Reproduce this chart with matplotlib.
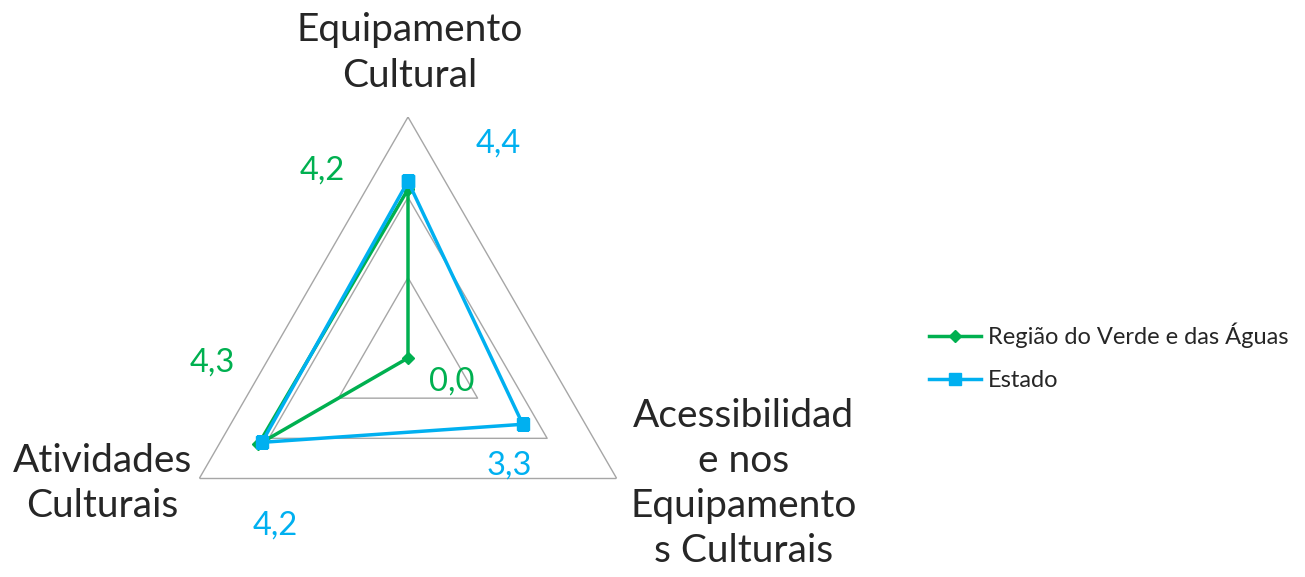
import numpy as np
import matplotlib
matplotlib.use('Agg')
from matplotlib import pyplot as plt

# data
categorias = ['Equipamento\nCultural',
              'Acessibilidad\ne nos\nEquipamento\ns Culturais',
              'Atividades\nCulturais']
series_nomes = ['Região do Verde e das Águas', 'Estado']
regiao = [4.2, 0.0, 4.3]
estado = [4.4, 3.3, 4.2]
niveis = [2, 4, 6]

verde = '#00B050'
azul = '#00B0F0'
cinza = '#A6A6A6'
texto = '#262626'

plt.rcParams['font.family'] = ['Lato', 'DejaVu Sans']

fig = plt.figure(figsize=(13.05, 5.77), dpi=100)
cx, cy, rad = 408 / 1305, (577 - 358) / 577, 241
ax = fig.add_axes([cx - rad / 1305, cy - rad / 577, 2 * rad / 1305, 2 * rad / 577],
                  projection='polar')
ax.set_theta_offset(np.pi / 2)
ax.set_theta_direction(-1)
ax.set_ylim(0, 6)
ax.set_xticks([])
ax.set_yticks([])
ax.spines['polar'].set_visible(False)
ax.grid(False)
ax.patch.set_alpha(0)

ang = np.linspace(0, 2 * np.pi, len(categorias), endpoint=False)
ang_f = np.append(ang, ang[0])

for n in niveis:
    ax.plot(ang_f, [n] * (len(ang) + 1), color=cinza, lw=1.0, zorder=1)

ax.plot(ang_f, regiao + regiao[:1], color=verde, lw=2.5, marker='D', ms=6,
        label=series_nomes[0], zorder=3)
ax.plot(ang_f, estado + estado[:1], color=azul, lw=2.5, marker='s', ms=9,
        label=series_nomes[1], zorder=4)

# rótulos de dados
off_reg = [(-86, 19), (44, -24), (-46, 82)]
off_est = [(90, 38), (-13, -41), (13, -83)]
for a, v, o in zip(ang, regiao, off_reg):
    ax.annotate(f'{v:.1f}'.replace('.', ','), xy=(a, v), xytext=o,
                textcoords='offset pixels', ha='center', va='center',
                fontsize=23.5, color=verde)
for a, v, o in zip(ang, estado, off_est):
    ax.annotate(f'{v:.1f}'.replace('.', ','), xy=(a, v), xytext=o,
                textcoords='offset pixels', ha='center', va='center',
                fontsize=23.5, color=azul)

# categorias
off_cat = [(2, 64), (127, -5), (-97, -5)]
for a, c, o in zip(ang, categorias, off_cat):
    ax.annotate(c, xy=(a, 6), xytext=o, textcoords='offset pixels',
                ha='center', va='center', fontsize=28, color=texto,
                linespacing=1.32, annotation_clip=False)

leg = fig.legend(loc='center left', bbox_to_anchor=(908 / 1305, (577 - 357) / 577),
                 frameon=False, fontsize=17, handlelength=2.2, handletextpad=0.3,
                 labelspacing=0.95, labelcolor=texto)

fig.savefig('out.png', dpi=100)
